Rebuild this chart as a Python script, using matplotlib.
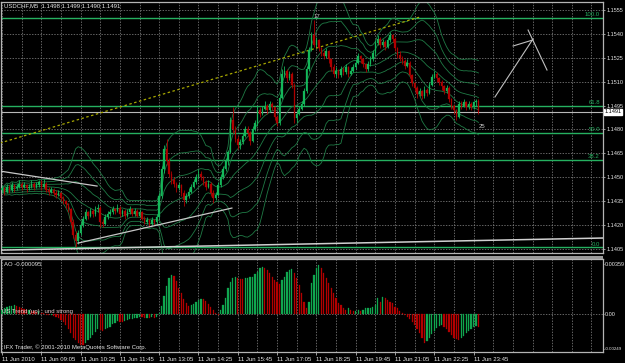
import numpy as np
import pandas as pd
import matplotlib
matplotlib.use('Agg')
import matplotlib.pyplot as plt
from matplotlib import transforms

# ---------------- data (USDCHF M5, prices in pips above 1.1400) ----------------
opens = [42, 43, 41, 44, 42, 45, 43, 44, 46, 44,
         45, 43, 44, 46, 44, 45, 47, 44, 46, 42,
         41, 42, 40, 39, 40, 37, 35, 33, 30, 22,
         14, 10, 15, 20, 24, 28, 26, 29, 27, 30,
         31, 22, 21, 25, 27, 28, 30, 29, 31, 27,
         29, 26, 28, 30, 27, 29, 26, 28, 24, 22,
         23, 21, 23, 22, 25, 38, 55, 68, 60, 52,
         48, 46, 43, 45, 40, 36, 38, 41, 44, 47,
         50, 52, 50, 47, 44, 46, 40, 37, 39, 45,
         50, 55, 60, 66, 86, 80, 74, 70, 72, 76,
         80, 78, 73, 80, 84, 92, 90, 93, 95, 92,
         96, 94, 88, 84, 100, 115, 117, 112, 115, 108,
         87, 90, 93, 96, 104, 118, 130, 139, 133, 136,
         131, 128, 126, 129, 124, 119, 115, 117, 114, 118,
         116, 119, 115, 117, 119, 122, 126, 124, 121, 118,
         121, 124, 128, 134, 137, 133, 135, 132, 136, 139,
         137, 131, 127, 125, 123, 120, 122, 114, 109, 106,
         102, 104, 101, 105, 103, 108, 113, 115, 112, 110,
         107, 104, 106, 99, 95, 92, 88, 96, 95, 97,
         94, 96, 94, 97, 98]
highs = [45, 44, 46, 45, 47, 46, 46, 48, 47, 47,
         46, 46, 48, 47, 47, 48, 48, 49, 47, 44,
         44, 43, 42, 42, 41, 38, 36, 34, 31, 24,
         16, 17, 22, 26, 30, 29, 31, 30, 32, 33,
         32, 24, 27, 29, 30, 32, 31, 33, 32, 30,
         30, 30, 32, 31, 31, 30, 30, 29, 26, 25,
         24, 25, 24, 27, 40, 57, 70, 74, 62, 54,
         50, 47, 47, 46, 42, 40, 43, 46, 49, 52,
         55, 54, 51, 48, 48, 47, 42, 41, 47, 52,
         57, 62, 67, 88, 94, 82, 76, 74, 78, 82,
         82, 79, 82, 86, 95, 94, 95, 98, 96, 98,
         97, 95, 89, 102, 118, 120, 118, 117, 116, 109,
         92, 95, 98, 106, 120, 132, 141, 149, 138, 137,
         132, 130, 131, 130, 125, 121, 119, 118, 120, 119,
         121, 120, 119, 121, 124, 128, 127, 125, 122, 123,
         126, 130, 136, 139, 138, 137, 136, 138, 141, 140,
         138, 132, 129, 126, 124, 124, 123, 115, 110, 107,
         106, 105, 107, 106, 110, 115, 117, 116, 113, 111,
         108, 108, 107, 100, 96, 93, 98, 98, 99, 98,
         98, 97, 98, 99, 99]
lows = [40, 39, 40, 40, 41, 41, 42, 43, 42, 43,
        41, 42, 43, 42, 43, 44, 42, 43, 41, 39,
        40, 38, 37, 38, 35, 33, 31, 28, 20, 12,
        6, 8, 14, 19, 23, 24, 25, 25, 26, 28,
        19, 19, 20, 24, 26, 27, 27, 28, 25, 26,
        24, 25, 27, 26, 26, 25, 25, 23, 21, 21,
        19, 20, 20, 21, 24, 37, 53, 58, 50, 46,
        44, 41, 42, 38, 32, 34, 37, 40, 43, 46,
        49, 48, 45, 42, 43, 38, 34, 36, 38, 44,
        49, 54, 58, 65, 78, 72, 68, 68, 71, 75,
        76, 70, 72, 79, 82, 88, 89, 92, 90, 91,
        92, 86, 82, 83, 99, 113, 110, 111, 106, 84,
        85, 89, 92, 95, 103, 117, 129, 132, 131, 129,
        126, 124, 125, 122, 117, 113, 113, 112, 113, 114,
        115, 113, 114, 116, 118, 121, 122, 119, 116, 117,
        120, 123, 127, 133, 131, 132, 130, 131, 135, 135,
        129, 125, 123, 121, 118, 119, 112, 107, 104, 100,
        101, 99, 100, 101, 102, 107, 112, 110, 108, 105,
        102, 103, 97, 93, 90, 86, 87, 93, 94, 92,
        93, 92, 93, 95, 90]
closes = [43, 41, 44, 42, 45, 43, 44, 46, 44, 45,
          43, 44, 46, 44, 45, 47, 44, 46, 42, 41,
          42, 40, 39, 40, 37, 35, 33, 30, 22, 14,
          10, 15, 20, 24, 28, 26, 29, 27, 30, 31,
          22, 21, 25, 27, 28, 30, 29, 31, 27, 29,
          26, 28, 30, 27, 29, 26, 28, 24, 22, 23,
          21, 23, 22, 25, 38, 55, 68, 60, 52, 48,
          46, 43, 45, 40, 36, 38, 41, 44, 47, 50,
          52, 50, 47, 44, 46, 40, 37, 39, 45, 50,
          55, 60, 66, 86, 80, 74, 70, 72, 76, 80,
          78, 73, 80, 84, 92, 90, 93, 95, 92, 96,
          94, 88, 84, 100, 115, 117, 112, 115, 108, 87,
          90, 93, 96, 104, 118, 130, 139, 133, 136, 131,
          128, 126, 129, 124, 119, 115, 117, 114, 118, 116,
          119, 115, 117, 119, 122, 126, 124, 121, 118, 121,
          124, 128, 134, 137, 133, 135, 132, 136, 139, 137,
          131, 127, 125, 123, 120, 122, 114, 109, 106, 102,
          104, 101, 105, 103, 108, 113, 115, 112, 110, 107,
          104, 106, 99, 95, 92, 88, 96, 95, 97, 94,
          96, 94, 97, 98, 91]
# Awesome Oscillator, in units of 0.0001
ao_values = [3, 4, 5, 5.5, 6, 6.5, 6, 5, 4, 3.5,
             3, 3.2, 2.5, 2, 1.5, 1.8, 1, 0.5, -0.5, -1,
             -0.8, -1.5, -2, -3, -4, -6, -8, -11, -14, -17,
             -19, -21, -22, -22.5, -21, -19, -17, -15, -13, -11,
             -11.5, -12, -11, -10, -9, -7.5, -6.5, -5, -5.5, -5.8,
             -5.2, -4.5, -3.8, -3.5, -3, -2.6, -2.2, -2.4, -2.8, -2.6,
             -3, -2.5, -2.7, -2, 1, 6, 13, 20, 26, 28,
             27, 24, 19, 15, 11, 8, 6, 6.5, 7.5, 8.5,
             10, 11, 10.5, 9, 7, 5, 3, 1, -0.5, 2.9,
             6.5, 11.2, 18.4, 23.2, 26.1, 26.3, 25.6, 25.2, 24.9, 25.6,
             26.1, 26.3, 26.8, 28.5, 30.4, 32.8, 34.0, 33.3, 31.6, 29.2,
             26.8, 24.4, 23.2, 21.3, 24.4, 26.8, 30.4, 31.6, 32.3, 29.2,
             25.6, 20.8, 14.8, 8.9, 4.6, 8.9, 22, 28, 32.8, 35.2,
             32.8, 29.2, 25.6, 22, 18.4, 14.8, 11.2, 7.7, 6.5, 4.6,
             2.9, 4.1, 2.9, 2.2, 2.4, 2.9, 2.2, 2.9, 4.1, 4.3,
             4.6, 5.3, 6.5, 11.2, 8.9, 12.4, 11.2, 10, 8.9, 7.7,
             5.3, 4.1, 2.2, 0.5, -0.7, -1.9, -3.5, -5.5, -8, -10.5,
             -13.5, -17, -20.8, -19.5, -17, -14.5, -12, -10, -8.5, -7.9,
             -9, -11, -13, -15, -17, -18.2, -18.7, -17.5, -15.5, -13.5,
             -12, -10.5, -9.5, -8.9, -9.5]

price_base = 1.1400
pip = 0.0001
price_ticks = [1.1405, 1.1420, 1.1435, 1.1450, 1.1465, 1.1480, 1.1495, 1.1510, 1.1525, 1.1540, 1.1555]
price_labels = ['1.1405', '1.1420', '1.1435', '1.1450', '1.1465', '1.1480', '1.1495', '1.1510', '1.1525', '1.1540', '1.1555']
time_label_bars = [0, 16, 32, 48, 64, 80, 96, 112, 128, 144, 160, 176, 192]
time_labels = ['11 Jun 2010', '11 Jun 09:05', '11 Jun 10:25', '11 Jun 11:45', '11 Jun 13:05',
               '11 Jun 14:25', '11 Jun 15:45', '11 Jun 17:05', '11 Jun 18:25', '11 Jun 19:45',
               '11 Jun 21:05', '11 Jun 22:25', '11 Jun 23:45']
ao_ticks = [-0.00249, 0.0, 0.00359]
ao_labels = ['-0.00249', '0.00', '0.00359']
fib_low, fib_high = 1.1406, 1.1550
fib_levels = [0.0, 38.2, 50.0, 61.8, 100.0]
fib_labels = ['0.0', '38.2', '50.0', '61.8', '100.0']
bid_price = 1.1491

# drawn objects: (bar positions, prices)
trend_yellow = ([-0.8, 170.2], [1.14715, 1.15506])
trend_upper_left = ([-0.8, 38.7], [1.14539, 1.14445])
trend_support = ([30.9, 93.6], [1.14087, 1.14307])
trend_floor = ([-0.8, 244.7], [1.14043, 1.14119])
arrow_lines = [([200.7, 216.2], [1.15004, 1.15368]),
               ([208.1, 216.2], [1.15324, 1.15362]),
               ([214.2, 221.9], [1.15424, 1.15173])]
text_marks = [(128.3, 1.15506, '17'), (195.4, 1.14816, '25')]

# ---------------- figure ----------------
W, H = 625, 363
fig = plt.figure(figsize=(6.25, 3.63), dpi=100, facecolor='black')
FONT = 'Liberation Sans'
FS = 4.3
FS_AX = 4.0
TXT = '#e6e6e6'
GRID = '#8c8c8c'
BORDER = '#b4b4b4'

def fx(px):
    return px / W

def fy(py):
    return 1 - py / H

ax = fig.add_axes([fx(1), fy(253), fx(603) - fx(1), fy(2) - fy(253)], facecolor='black')
ax2 = fig.add_axes([fx(1), fy(352), fx(603) - fx(1), fy(259) - fy(352)], facecolor='black')

o = price_base + np.array(opens) * pip
h = price_base + np.array(highs) * pip
l = price_base + np.array(lows) * pip
c = price_base + np.array(closes) * pip
idx = np.arange(len(c))

xlim = (-0.41, 244.7)
for a in (ax, ax2):
    a.set_xlim(*xlim)
    for b in range(0, 245, 8):
        a.axvline(b, color=GRID, lw=0.5, ls=(0, (2, 2)), zorder=0)
    for s in a.spines.values():
        s.set_color(BORDER)
        s.set_linewidth(0.9)

ax.set_ylim(1.14025, 1.15600)
for p in price_ticks:
    ax.axhline(p, color=GRID, lw=0.5, ls=(0, (2, 2)), zorder=0)

# fibonacci levels
blend = transforms.blended_transform_factory(ax.transAxes, ax.transData)
for lev, lab in zip(fib_levels, fib_labels):
    price = fib_low + (fib_high - fib_low) * lev / 100.0
    ax.axhline(price, color='#25b060', lw=1.0, zorder=1)
    ax.text(0.995, price + 0.00003, lab, transform=blend,
            ha='right', va='bottom', color='#25b060', fontsize=FS, family=FONT, zorder=5)

# bid line
ax.axhline(bid_price, color='#b8b8b8', lw=0.8, zorder=1)

# bollinger bands
cs = pd.Series(c)
mid = cs.rolling(20, min_periods=1).mean()
sd = cs.rolling(20, min_periods=1).std(ddof=0)
for k in (1, 2, 3):
    ax.plot(idx, mid + k * sd, color='#1f7a45', lw=0.6, zorder=2)
    ax.plot(idx, mid - k * sd, color='#1f7a45', lw=0.6, zorder=2)
ax.plot(idx, mid, color='#1f7a45', lw=0.6, zorder=2)

# candles
bull = c >= o
col = np.where(bull, '#14b85a', '#b00000')
ax.vlines(idx, l, h, colors=col, lw=0.6, zorder=3)
body_h = np.maximum(np.abs(c - o), 0.000012)
ax.bar(idx, body_h, bottom=np.minimum(o, c), width=0.62, color=col, edgecolor=col, lw=0.2, zorder=4)

# drawn objects
ax.plot(*trend_yellow, color='#a8a800', lw=0.9, ls=(0, (2, 2)), zorder=3)
ax.plot(*trend_upper_left, color='#c8c8c8', lw=0.9, zorder=3)
ax.plot(*trend_support, color='#c8c8c8', lw=0.9, zorder=3)
ax.plot(*trend_floor, color='#d0d0d0', lw=1.1, zorder=3)
for xs, ys in arrow_lines:
    ax.plot(xs, ys, color='#c0c0c0', lw=0.8, zorder=3)
for bx, py, t in text_marks:
    ax.text(bx, py, t, color='#c8c8c8', fontsize=FS, family=FONT, ha='center', va='center', zorder=5)

# price axis
ax.yaxis.tick_right()
ax.set_yticks(price_ticks, price_labels)
ax.tick_params(axis='y', length=1.5, width=0.6, color=BORDER, labelsize=FS_AX, labelcolor=TXT, pad=1.0)
for t in ax.get_yticklabels():
    t.set_family(FONT)
ax.set_xticks([])
ax.text(1.002, bid_price, '1.1491', transform=blend,
        ha='left', va='center', color='black', fontsize=FS_AX, family=FONT,
        bbox=dict(facecolor='white', edgecolor='white', pad=0.5), clip_on=False, zorder=6)

# AO panel
ao = np.array(ao_values) * pip
prev = np.concatenate([[ao[0] - 1], ao[:-1]])
ao_col = np.where(ao >= prev, '#10a64f', '#b40000')
ax2.bar(idx, ao, width=0.5, color=ao_col, edgecolor=ao_col, lw=0.2, zorder=3)
ax2.set_ylim(-0.00273, 0.00395)
ax2.axhline(0, color=GRID, lw=0.5, ls=(0, (2, 2)), zorder=1)
ax2.yaxis.tick_right()
ax2.set_yticks(ao_ticks, ao_labels)
ax2.tick_params(axis='y', length=1.0, width=0.6, color=BORDER, labelsize=FS_AX, labelcolor=TXT, pad=0.6)
ax2.set_xticks(time_label_bars, time_labels)
ax2.tick_params(axis='x', length=2, width=0.6, color=BORDER, labelsize=FS, labelcolor=TXT, pad=1.5)
for t in ax2.get_xticklabels():
    t.set_ha('left')
    t.set_family(FONT)
for t in ax2.get_yticklabels():
    t.set_family(FONT)
    if t.get_text().startswith('-'):
        t.set_fontsize(3.2)

# separator between panels
fig.patches.append(plt.Rectangle((fx(0), fy(259)), fx(603), fy(256) - fy(259), transform=fig.transFigure,
                                 facecolor='#9a9a9a', edgecolor='none'))

# captions
fig.text(fx(4), fy(6), 'USDCHF,M5  1.1498 1.1499 1.1490 1.1491', color=TXT, fontsize=FS, family=FONT, va='center')
fig.text(fx(4), fy(265), 'AO -0.000095', color=TXT, fontsize=FS, family=FONT, va='center')
fig.text(fx(2), fy(312), 'US Trend (up) : und strong', color='#e8d0d0', fontsize=FS, family=FONT, va='center')
fig.text(fx(4), fy(347), 'IFX Trader, \u00a9 2001-2010 MetaQuotes Software Corp.', color=TXT, fontsize=FS, family=FONT, va='center')

fig.savefig('out.png', dpi=100, facecolor='black')
